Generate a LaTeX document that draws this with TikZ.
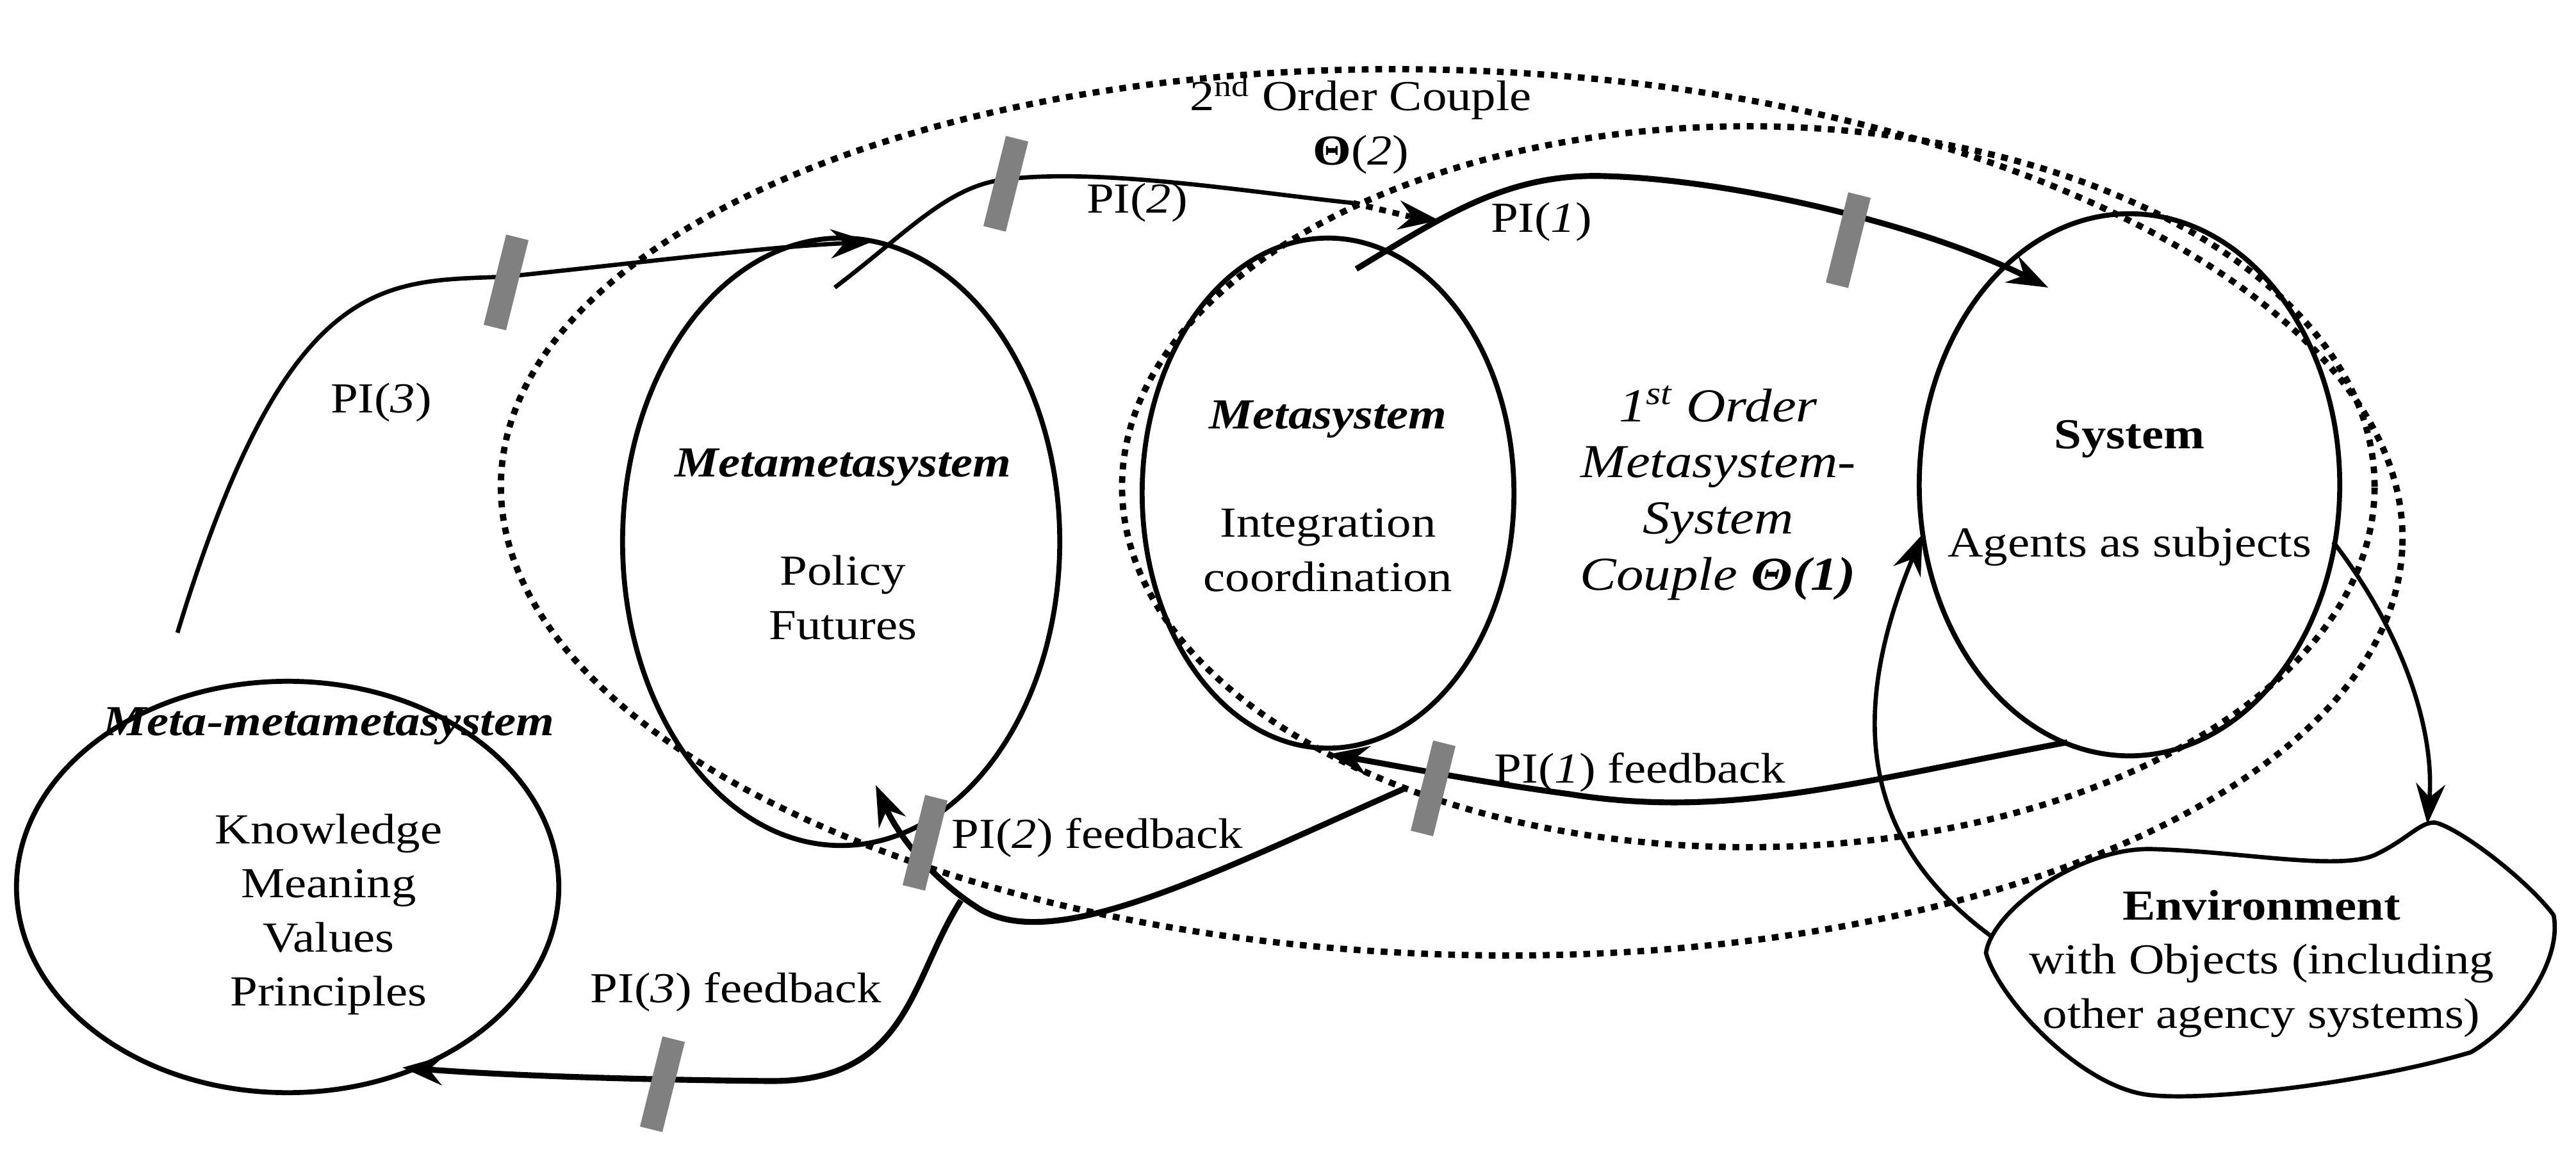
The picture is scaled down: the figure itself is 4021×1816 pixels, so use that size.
\documentclass[tikz,border=0pt]{standalone}
\usepackage{fontspec}
\setmainfont[FakeStretch=1.15]{Liberation Serif}
\usetikzlibrary{arrows.meta,shapes.geometric}
\begin{document}
\begin{tikzpicture}[x=0.01cm,y=-0.01cm,
  every node/.style={font=\fontsize{19}{24}\selectfont},
  ell/.style={ellipse,draw,line width=2.2pt,inner sep=0pt},
  dots/.style={ellipse,draw,line width=2.8pt,dash pattern=on 3pt off 3pt,inner sep=0pt},
  conn/.style={line width=1.9pt,-{Stealth[length=18pt,width=13pt,inset=6pt]}},
  connb/.style={line width=2.6pt,-{Stealth[length=18pt,width=13pt,inset=6pt]}},
  bar/.style={rectangle,fill=black!50,minimum width=0.36cm,minimum height=1.45cm,inner sep=0pt,rotate=-14},
  lbl/.style={align=center}]
\useasboundingbox (0,0) rectangle (4021,1816);
% dotted couples
\node[dots,minimum width=29.68cm,minimum height=13.8cm,rotate=-2] (o2) at (2266,800) {};
\node[dots,minimum width=19.54cm,minimum height=11.25cm] (o1) at (2729,760) {};
% ellipses
\node[ell,minimum width=8.46cm,minimum height=6.42cm] (mmm) at (449,1385) {};
\node[ell,minimum width=6.82cm,minimum height=9.48cm] (mm) at (1313,846) {};
\node[ell,minimum width=5.8cm,minimum height=7.96cm] (ms) at (2073,770) {};
\node[ell,minimum width=6.56cm,minimum height=8.46cm] (sys) at (3324,757) {};
% environment blob
\draw[line width=1.9pt] (3804,1285) .. controls (3850,1300) and (3950,1380) .. (3986,1429)
  .. controls (4000,1500) and (3930,1600) .. (3857,1643)
  .. controls (3700,1690) and (3450,1720) .. (3357,1710)
  .. controls (3250,1700) and (3120,1560) .. (3100,1488)
  .. controls (3110,1420) and (3250,1320) .. (3364,1326)
  .. controls (3500,1330) and (3650,1360) .. (3707,1335)
  .. controls (3760,1310) and (3780,1280) .. (3804,1285);
\coordinate (envtop) at (3789,1287);
\coordinate (envleft) at (3107,1461);
\node[lbl] (envt) at (3530,1505) {\textbf{Environment}\\with Objects (including\\other agency systems)};
% texts in ellipses
\node[lbl] (mmmt) at (513,1345) {\textbf{\textit{Meta-metametasystem}}\\[24pt]Knowledge\\Meaning\\Values\\Principles};
\node[lbl] (mmt) at (1316,850) {\textbf{\textit{Metametasystem}}\\[24pt]Policy\\Futures};
\node[lbl] (mst) at (2073,775) {\textbf{\textit{Metasystem}}\\[24pt]Integration\\coordination};
\node[lbl] (syst) at (3324,770) {\textbf{System}\\[24pt]Agents as subjects};
\node[lbl,font=\fontsize{21}{25}\selectfont\itshape] (first) at (2682,770) {1\textsuperscript{st} Order\\Metasystem-\\System\\Couple \textbf{Θ(1)}};
\node[lbl] (second) at (2124,195) {2\textsuperscript{nd} Order Couple\\\textbf{Θ}(\textit{2})};
% connectors
\coordinate (a3s) at (277,988);
\draw[conn] (a3s) .. controls (450,420) and (600,440) .. (790,432) .. controls (1000,410) and (1200,385) .. (1360,378) coordinate (a3e);
\node[bar] (b3) at (790,441) {};
\node (l3) at (595,628) {PI(\textit{3})};
\coordinate (a2s) at (1303,449);
\draw[line width=1.9pt] (a2s) .. controls (1420,360) and (1480,290) .. (1570,280) .. controls (1720,262) and (1950,300) .. (2112,317) coordinate (a2m);
\draw[line width=2.6pt,dash pattern=on 3pt off 3pt] (a2m) -- (2200,338);
\draw[conn] (2200,338) -- (2246,344) coordinate (a2e);
\node[bar] (b2) at (1570,287) {};
\node (l2) at (1775,316) {PI(\textit{2})};
\coordinate (a1s) at (2117,420);
\draw[connb] (a1s) .. controls (2250,340) and (2350,270) .. (2505,275) .. controls (2700,280) and (3000,350) .. (3197,449) coordinate (a1e);
\node[bar] (b1) at (2885,375) {};
\node (l1) at (2406,346) {PI(\textit{1})};
\coordinate (f1s) at (3227,1159);
\draw[connb] (f1s) .. controls (2900,1220) and (2700,1280) .. (2450,1240) .. controls (2300,1220) and (2150,1190) .. (2073,1178) coordinate (f1e);
\node[bar] (fb1) at (2237,1231) {};
\node (fl1) at (2560,1206) {PI(\textit{1}) feedback};
\coordinate (f2s) at (2193,1231);
\draw[connb] (f2s) .. controls (1900,1360) and (1650,1490) .. (1530,1420) .. controls (1450,1370) and (1400,1300) .. (1367,1226) coordinate (f2e);
\node[bar] (fb2) at (1444,1316) {};
\node (fl2) at (1713,1308) {PI(\textit{2}) feedback};
\coordinate (f3s) at (1500,1406);
\draw[connb] (f3s) .. controls (1420,1530) and (1420,1690) .. (1200,1688) .. controls (1000,1686) and (800,1680) .. (628,1667) coordinate (f3e);
\node[bar] (fb3) at (1034,1693) {};
\node (fl3) at (1149,1549) {PI(\textit{3}) feedback};
\coordinate (se) at (3642,846);
\draw[conn] (se) .. controls (3760,1000) and (3800,1150) .. (envtop);
\coordinate (es) at (3001,834);
\draw[conn] (envleft) .. controls (2930,1330) and (2870,1150) .. (es);
\end{tikzpicture}
\end{document}
